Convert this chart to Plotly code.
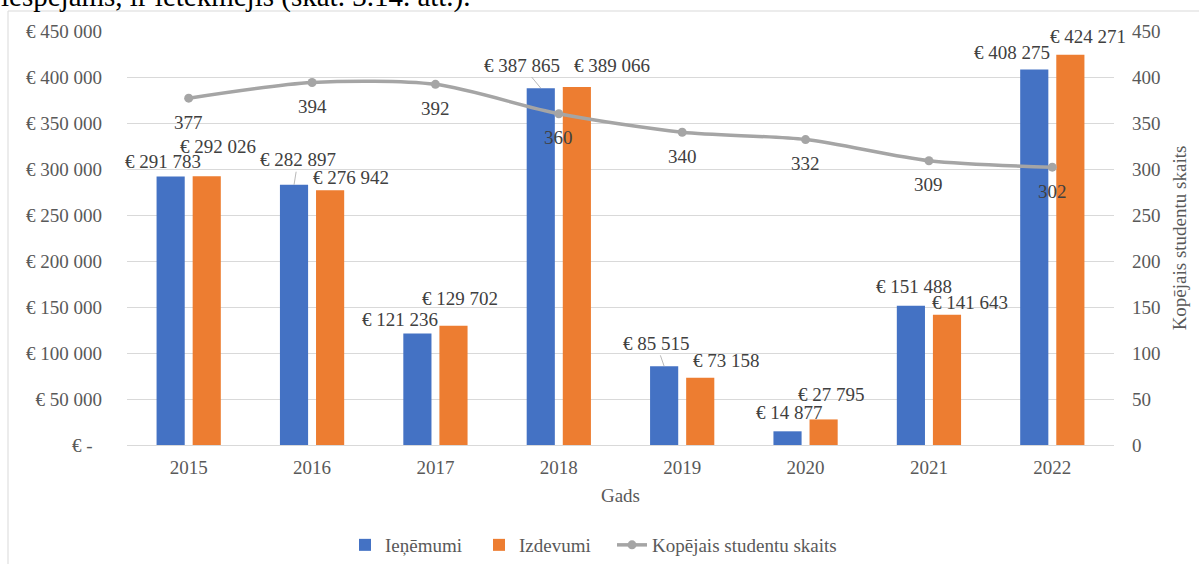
import plotly.graph_objects as go

# ---- data -------------------------------------------------------------
years = ["2015", "2016", "2017", "2018", "2019", "2020", "2021", "2022"]
ienemumi = [291783, 282897, 121236, 387865, 85515, 14877, 151488, 408275]
izdevumi = [292026, 276942, 129702, 389066, 73158, 27795, 141643, 424271]
studenti = [377, 394, 392, 360, 340, 332, 309, 302]

left_ticks = [0, 50000, 100000, 150000, 200000, 250000, 300000, 350000, 400000, 450000]
right_ticks = [0, 50, 100, 150, 200, 250, 300, 350, 400, 450]

# label offsets (pixels) relative to each bar top / bar centre
blue_off = [(-8, -15), (4, -25), (-17, -14), (-19, -23), (-8, -23), (2, -19), (3, -19), (-22, -17)]
orange_off = [(11, -30), (21, -13), (7, -27), (35, -22), (26, -17), (8, -25), (23, -12), (18, -18)]
blue_leader = [False, True, False, True, True, False, False, False]

BLUE = "#4472C4"
ORANGE = "#ED7D31"
GREY = "#A5A5A5"
FONT = "Liberation Serif, Times New Roman, serif"
LABEL_COL = "#404040"
TICK_COL = "#595959"
FS = 19


def eur(v):
    if v == 0:
        return "€ -\u2007"
    return "€ " + f"{v:,}".replace(",", " ")


W, H = 1199, 564
ML, MR, MT, MB = 127, 85, 31, 119
PW, PH = W - ML - MR, H - MT - MB


def px_x(p):
    return (p - ML) / PW


def px_y(p):
    return (H - MB - p) / PH


xpos = list(range(len(years)))

fig = go.Figure()
fig.add_trace(go.Bar(x=xpos, y=ienemumi, name="Ieņēmumi", marker_color=BLUE,
                     marker_line_width=0, legend="legend"))
fig.add_trace(go.Bar(x=xpos, y=izdevumi, name="Izdevumi", marker_color=ORANGE,
                     marker_line_width=0, legend="legend2"))
fig.add_trace(go.Scatter(x=xpos, y=studenti, name="Kopējais studentu skaits",
                         yaxis="y2", mode="lines+markers", legend="legend3",
                         line=dict(color=GREY, width=3.5, shape="spline", smoothing=0.8),
                         marker=dict(color=GREY, size=9)))

annotations = []
for i in xpos:
    dx, dy = blue_off[i]
    if blue_leader[i]:
        annotations.append(dict(x=i, y=ienemumi[i], xref="x", yref="y", xshift=-18,
                                text=eur(ienemumi[i]), showarrow=True, arrowhead=0,
                                arrowwidth=0.8, arrowcolor="#A6A6A6", ax=dx, ay=dy,
                                standoff=0, font=dict(family=FONT, size=FS, color=LABEL_COL)))
    else:
        annotations.append(dict(x=i, y=ienemumi[i], xref="x", yref="y",
                                xshift=-18 + dx, yshift=-dy, text=eur(ienemumi[i]),
                                showarrow=False, xanchor="center", yanchor="middle",
                                font=dict(family=FONT, size=FS, color=LABEL_COL)))
    dx, dy = orange_off[i]
    annotations.append(dict(x=i, y=izdevumi[i], xref="x", yref="y",
                            xshift=18 + dx, yshift=-dy, text=eur(izdevumi[i]),
                            showarrow=False, xanchor="center", yanchor="middle",
                            font=dict(family=FONT, size=FS, color=LABEL_COL)))
    annotations.append(dict(x=i, y=studenti[i], xref="x", yref="y2", yshift=-24,
                            text=str(studenti[i]), showarrow=False,
                            xanchor="center", yanchor="middle",
                            font=dict(family=FONT, size=FS, color=LABEL_COL)))

# fragment of the surrounding document text above the chart frame
annotations.append(dict(x=px_x(-1), y=px_y(-4), xref="paper", yref="paper",
                        text="iespējams, ir ietekmējis (skat. 3.14. att.).",
                        showarrow=False, xanchor="left", yanchor="middle",
                        font=dict(family=FONT, size=29, color="#000000")))


def legend_box(left_px):
    return dict(orientation="h", x=px_x(left_px), xanchor="left", y=px_y(545),
                yanchor="middle", font=dict(family=FONT, size=FS, color=TICK_COL),
                itemwidth=30, bgcolor="rgba(0,0,0,0)")


fig.update_layout(
    width=W, height=H,
    margin=dict(l=ML, r=MR, t=MT, b=MB, autoexpand=False),
    paper_bgcolor="white", plot_bgcolor="white",
    barmode="group", bargap=0.415, bargroupgap=0.22,
    font=dict(family=FONT, size=FS, color=TICK_COL),
    showlegend=True,
    legend=legend_box(345),
    legend2=legend_box(479),
    legend3=legend_box(612),
    xaxis=dict(range=[-0.5, len(years) - 0.5], tickvals=xpos, ticktext=years,
               showgrid=False, showline=True, linecolor="#D9D9D9", zeroline=False,
               linewidth=1, ticks="", ticklabelstandoff=5,
               tickfont=dict(family=FONT, size=FS, color=TICK_COL),
               title=dict(text="Gads", standoff=11,
                          font=dict(family=FONT, size=FS, color=TICK_COL))),
    yaxis=dict(range=[0, 450000], tickvals=left_ticks,
               ticktext=[eur(v) for v in left_ticks], showgrid=True,
               gridcolor="#D9D9D9", gridwidth=1, zeroline=False, showline=False,
               ticks="", ticklabelstandoff=24,
               tickfont=dict(family=FONT, size=FS, color=TICK_COL)),
    yaxis2=dict(range=[0, 450], tickvals=right_ticks, overlaying="y", side="right",
                showgrid=False, zeroline=False, showline=False, ticks="",
                ticklabelstandoff=17,
                tickfont=dict(family=FONT, size=FS, color=TICK_COL),
                title=dict(text="Kopējais studentu skaits", standoff=13,
                           font=dict(family=FONT, size=FS, color=TICK_COL))),
    annotations=annotations,
    shapes=[dict(type="rect", xref="paper", yref="paper",
                 x0=px_x(8), x1=px_x(1230), y0=px_y(11), y1=px_y(600),
                 line=dict(color="#D9D9D9", width=1), fillcolor="rgba(0,0,0,0)",
                 layer="below")],
)

fig.write_html("out.html")
